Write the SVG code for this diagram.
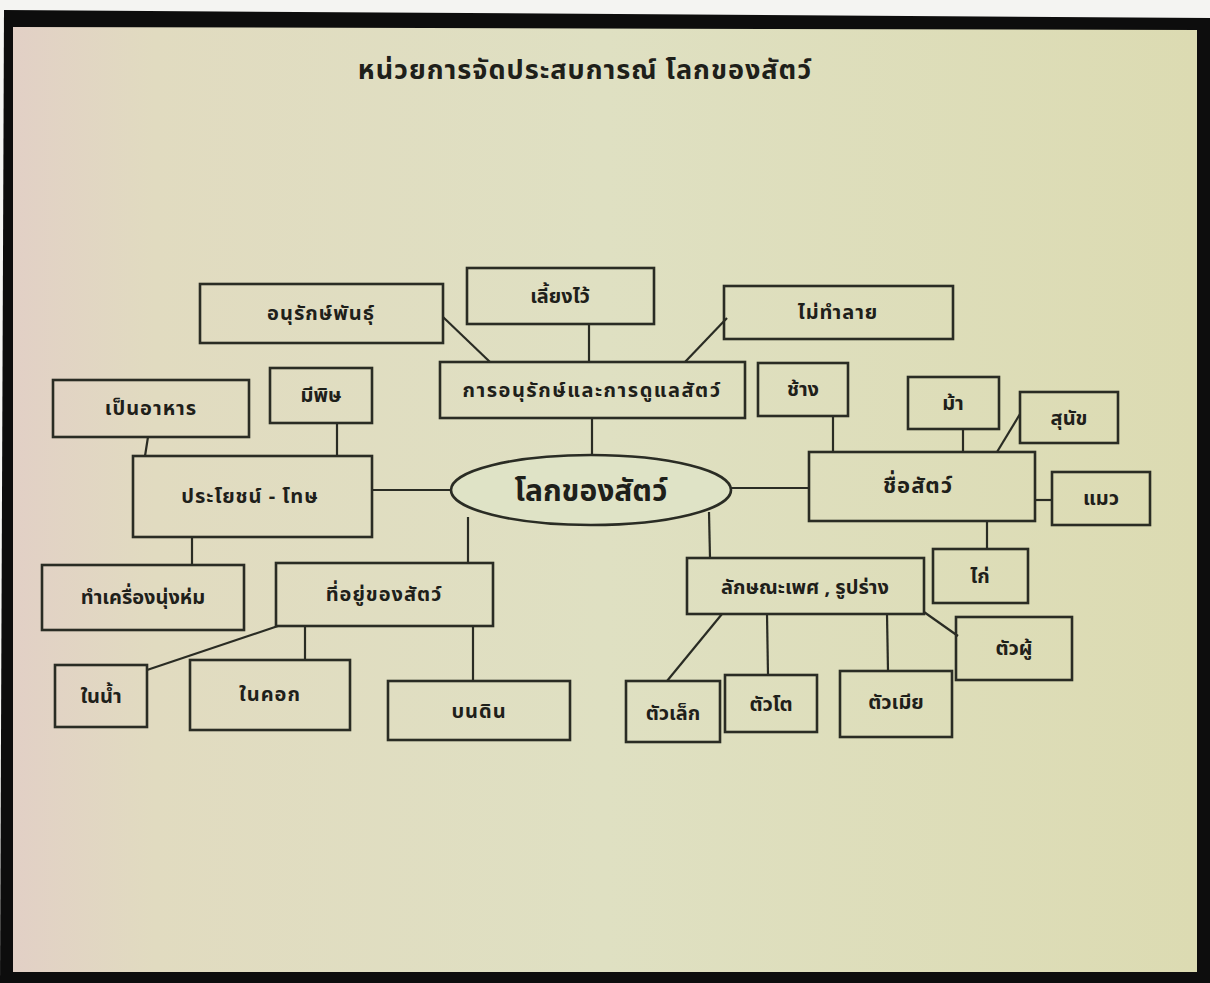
<svg xmlns="http://www.w3.org/2000/svg" width="1210" height="983" viewBox="0 0 1210 983">
<defs>
<linearGradient id="paper" x1="0" y1="0" x2="1" y2="0">
<stop offset="0" stop-color="#e2d0c6"/>
<stop offset="0.12" stop-color="#e1dbc0"/>
<stop offset="0.5" stop-color="#dfe0c2"/>
<stop offset="1" stop-color="#dcdbb2"/>
</linearGradient>
<style>
.box{fill:none;stroke:#2a2c24;stroke-width:2.6}
.t{font-family:"Noto Sans Thai","Noto Sans","DejaVu Sans",sans-serif;font-weight:bold;fill:#1e201a;text-anchor:middle;dominant-baseline:central;font-size:20px}
.c line{stroke:#2a2c24;stroke-width:2.2}
</style>
</defs>
<rect x="0" y="0" width="1210" height="983" fill="#f4f4f2"/>
<polygon points="4,10 1210,18 1210,983 0,983" fill="#0d0d0d"/>
<polygon points="13,27 1197,30 1197,972 13,972" fill="url(#paper)"/>
<text class="t" x="585" y="70" style="font-size:27px;letter-spacing:1px">หน่วยการจัดประสบการณ์  โลกของสัตว์</text>
<g class="c" id="connectors">
<line x1="443" y1="317" x2="490" y2="362"/>
<line x1="589" y1="324" x2="589" y2="362"/>
<line x1="727" y1="318" x2="685" y2="362"/>
<line x1="592" y1="418" x2="592" y2="455"/>
<line x1="451" y1="490" x2="372" y2="490"/>
<line x1="337" y1="423" x2="337" y2="456"/>
<line x1="148" y1="437" x2="145" y2="456"/>
<line x1="192" y1="537" x2="192" y2="565"/>
<line x1="468" y1="517" x2="468" y2="563"/>
<line x1="278" y1="626" x2="147" y2="670"/>
<line x1="305" y1="626" x2="305" y2="660"/>
<line x1="473" y1="626" x2="473" y2="681"/>
<line x1="731" y1="488" x2="809" y2="488"/>
<line x1="709" y1="512" x2="710" y2="558"/>
<line x1="833" y1="416" x2="833" y2="452"/>
<line x1="963" y1="429" x2="963" y2="452"/>
<line x1="1020" y1="414" x2="997" y2="452"/>
<line x1="1035" y1="500" x2="1052" y2="500"/>
<line x1="987" y1="521" x2="987" y2="549"/>
<line x1="722" y1="614" x2="667" y2="681"/>
<line x1="767" y1="614" x2="768" y2="675"/>
<line x1="887" y1="614" x2="888" y2="671"/>
<line x1="924" y1="612" x2="958" y2="636"/>
</g>
<g id="n-center"><ellipse cx="591" cy="490" rx="140" ry="35" fill="#dfe3c6" stroke="#2a2c24" stroke-width="2.6"/><text class="t" x="591" y="492" style="font-size:30px">โลกของสัตว์</text></g>
<g id="n-anurak"><rect class="box" x="200" y="284" width="243" height="59"/><text class="t" x="321" y="314" style="letter-spacing:1px">อนุรักษ์พันธุ์</text></g>
<g id="n-liang"><rect class="box" x="467" y="268" width="187" height="56"/><text class="t" x="560" y="297">เลี้ยงไว้</text></g>
<g id="n-maitamlai"><rect class="box" x="724" y="286" width="229" height="53"/><text class="t" x="838" y="313" style="letter-spacing:1px">ไม่ทำลาย</text></g>
<g id="n-care"><rect class="box" x="440" y="362" width="305" height="56"/><text class="t" x="592" y="391" style="letter-spacing:1.5px">การอนุรักษ์และการดูแลสัตว์</text></g>
<g id="n-mipit"><rect class="box" x="270" y="368" width="102" height="55"/><text class="t" x="321" y="396">มีพิษ</text></g>
<g id="n-aharn"><rect class="box" x="53" y="380" width="196" height="57"/><text class="t" x="151" y="409" style="letter-spacing:1px">เป็นอาหาร</text></g>
<g id="n-chang"><rect class="box" x="758" y="363" width="90" height="53"/><text class="t" x="803" y="390">ช้าง</text></g>
<g id="n-ma"><rect class="box" x="908" y="377" width="91" height="52"/><text class="t" x="953" y="404">ม้า</text></g>
<g id="n-sunak"><rect class="box" x="1020" y="392" width="98" height="51"/><text class="t" x="1069" y="419">สุนัข</text></g>
<g id="n-name"><rect class="box" x="809" y="452" width="226" height="69"/><text class="t" x="918" y="486" style="font-size:22px;letter-spacing:1px">ชื่อสัตว์</text></g>
<g id="n-maew"><rect class="box" x="1052" y="472" width="98" height="53"/><text class="t" x="1101" y="499">แมว</text></g>
<g id="n-kai"><rect class="box" x="933" y="549" width="95" height="54"/><text class="t" x="980" y="577">ไก่</text></g>
<g id="n-prayot"><rect class="box" x="133" y="456" width="239" height="81"/><text class="t" x="250" y="497" style="letter-spacing:1px">ประโยชน์ - โทษ</text></g>
<g id="n-krueang"><rect class="box" x="42" y="565" width="202" height="65"/><text class="t" x="143" y="598">ทำเครื่องนุ่งห่ม</text></g>
<g id="n-tiyu"><rect class="box" x="276" y="563" width="217" height="63"/><text class="t" x="384" y="595" style="letter-spacing:1px">ที่อยู่ของสัตว์</text></g>
<g id="n-laksana"><rect class="box" x="687" y="558" width="237" height="56"/><text class="t" x="805" y="588">ลักษณะเพศ , รูปร่าง</text></g>
<g id="n-tuaphu"><rect class="box" x="956" y="617" width="116" height="63"/><text class="t" x="1014" y="649">ตัวผู้</text></g>
<g id="n-naiman"><rect class="box" x="55" y="665" width="92" height="62"/><text class="t" x="101" y="697">ในน้ำ</text></g>
<g id="n-naikok"><rect class="box" x="190" y="660" width="160" height="70"/><text class="t" x="270" y="695" style="letter-spacing:1px">ในคอก</text></g>
<g id="n-bondin"><rect class="box" x="388" y="681" width="182" height="59"/><text class="t" x="479" y="712" style="letter-spacing:1px">บนดิน</text></g>
<g id="n-tualek"><rect class="box" x="626" y="681" width="94" height="61"/><text class="t" x="673" y="714">ตัวเล็ก</text></g>
<g id="n-tuato"><rect class="box" x="725" y="675" width="92" height="57"/><text class="t" x="771" y="705">ตัวโต</text></g>
<g id="n-tuamia"><rect class="box" x="840" y="671" width="112" height="66"/><text class="t" x="896" y="703">ตัวเมีย</text></g>
</svg>
